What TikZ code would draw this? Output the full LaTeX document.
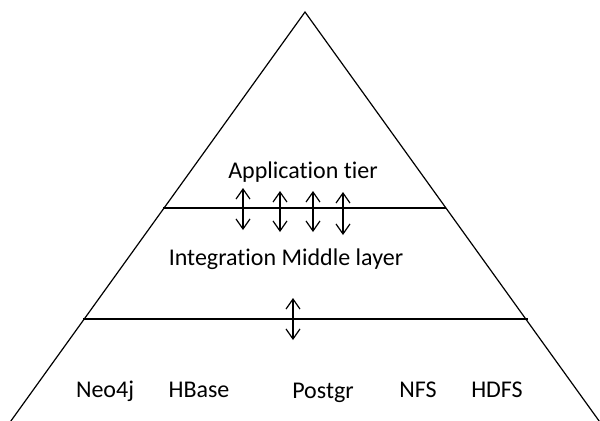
\documentclass[tikz,border=0pt]{standalone}
\usepackage{fontspec}
\setmainfont{Carlito}[Ligatures=NoCommon]
\usepackage{tikz}
\usetikzlibrary{arrows.meta}

\begin{document}
\begin{tikzpicture}[x=0.5pt,y=-0.5pt,>={Straight Barb[length=5pt,width=7pt]},
  side/.style={line width=0.6pt},
  layer line/.style={line width=0.9pt},
  link/.style={<->,line width=0.6pt},
  tier label/.style={anchor=base,inner sep=0pt,font=\fontsize{12}{14}\selectfont}]
  \useasboundingbox (0,0) rectangle (600,420);
  % pyramid outline
  \coordinate (apex) at (305,12);
  \coordinate (base_l) at (8,425);
  \coordinate (base_r) at (602,425);
  \draw[side] (base_l) -- (apex) -- (base_r);
  % layer separators
  \coordinate (top_l) at (163,208);
  \coordinate (top_r) at (446,208);
  \coordinate (low_l) at (83,319);
  \coordinate (low_r) at (528,319);
  \draw[layer line] (top_l) -- (top_r);
  \draw[layer line] (low_l) -- (low_r);
  % tiers
  \node[tier label] (app) at (303,178) {Application tier};
  \node[tier label] (mid) at (286,265) {Integration Middle layer};
  \node[tier label] (neo) at (105,397) {Neo4j};
  \node[tier label] (hbase) at (199,397) {HBase};
  \node[tier label] (postgr) at (323,398) {Postgr};
  \node[tier label] (nfs) at (418,397) {NFS};
  \node[tier label] (hdfs) at (497,397) {HDFS};
  % links between tiers
  \foreach \x/\ya/\yb [count=\i] in {243/188/230, 280/191/232, 313/191/232, 343/192/235} {
    \coordinate (up_\i) at (\x,\ya);
    \coordinate (dn_\i) at (\x,\yb);
    \draw[link] (up_\i) -- (dn_\i);
  }
  \coordinate (store_up) at (293,298);
  \coordinate (store_dn) at (293,340);
  \draw[link] (store_up) -- (store_dn);
\end{tikzpicture}
\end{document}
